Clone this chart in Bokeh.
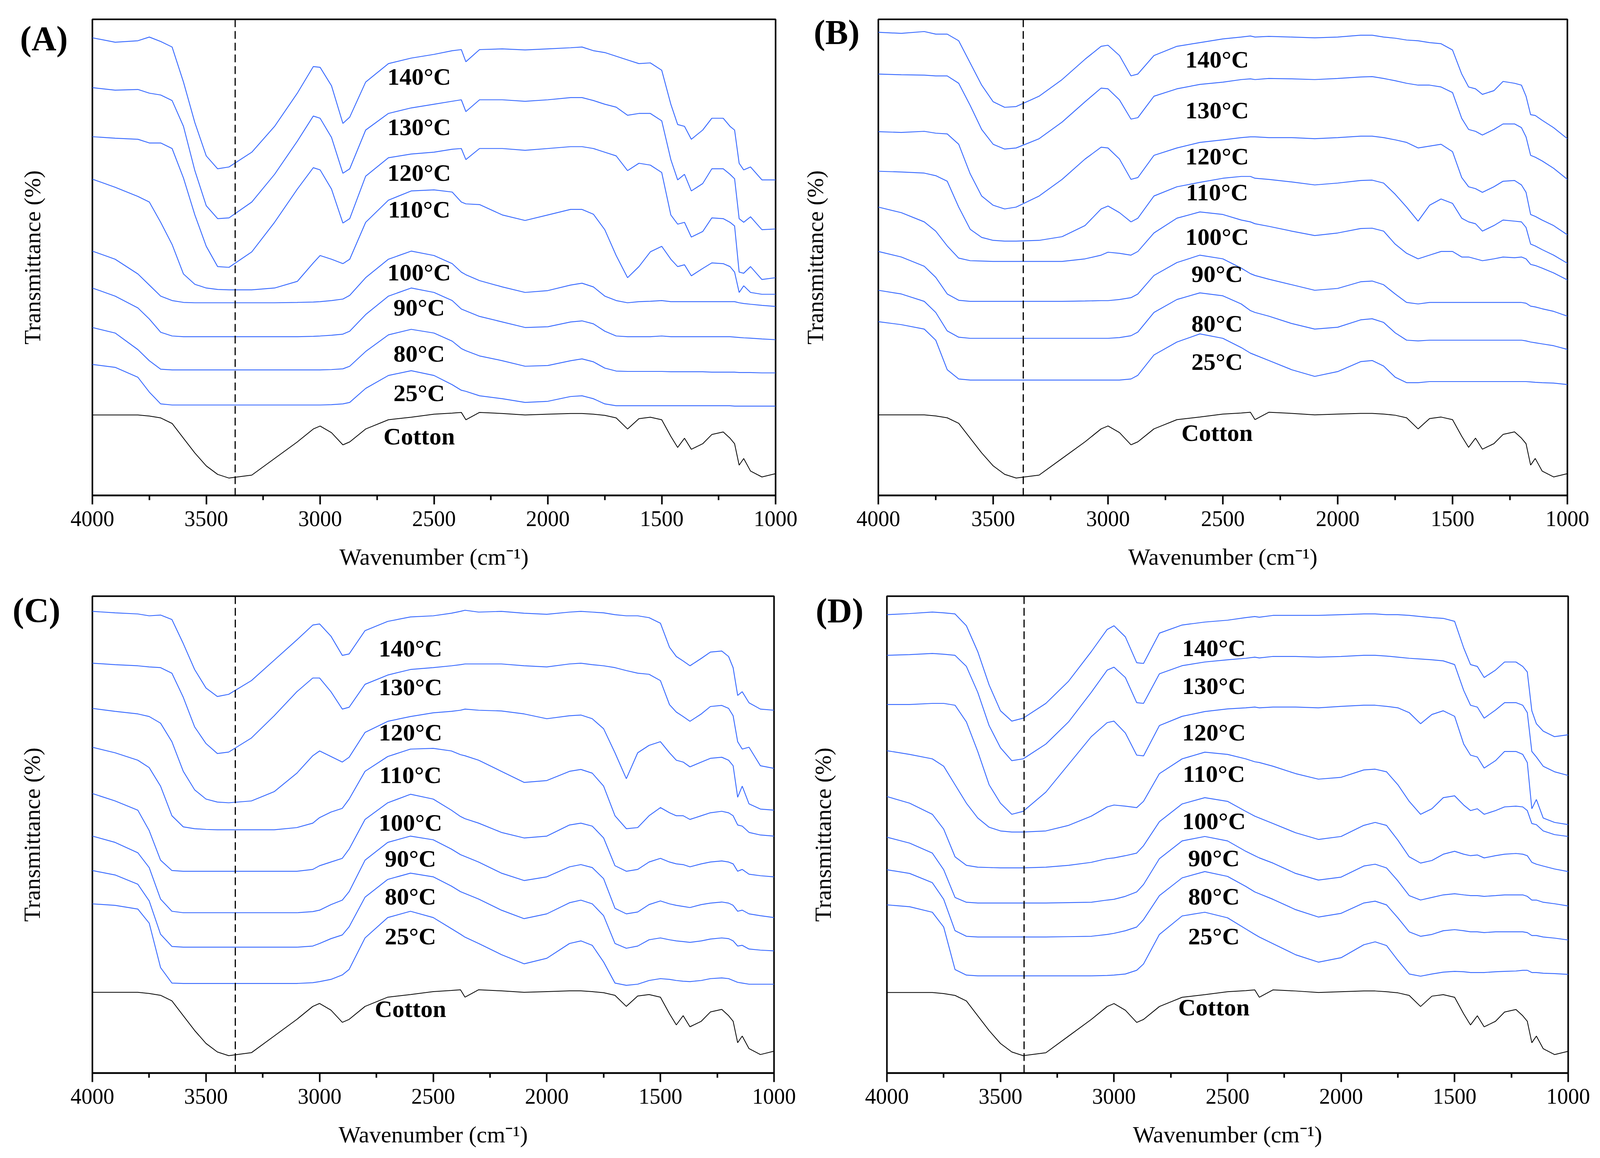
from bokeh.plotting import figure
from bokeh.models import Range1d, FixedTicker, Label, Span
from bokeh.layouts import column, row
from bokeh.embed import file_html
from bokeh.resources import INLINE

# wavenumber grid (cm-1) shared by every spectrum
wavenumber = [4000, 3900, 3800, 3750, 3700, 3650, 3600, 3550, 3500, 3450,
              3400, 3300, 3200, 3100, 3030, 3000, 2950, 2900, 2870, 2800,
              2700, 2600, 2500, 2420, 2380, 2360, 2300, 2200, 2100, 2000,
              1900, 1850, 1800, 1750, 1700, 1650, 1600, 1550, 1500, 1460,
              1430, 1400, 1370, 1320, 1280, 1230, 1200, 1180, 1160, 1140,
              1110, 1060, 1000]

series_labels = ["140\u00b0C", "130\u00b0C", "120\u00b0C", "110\u00b0C",
                 "100\u00b0C", "90\u00b0C", "80\u00b0C", "25\u00b0C", "Cotton"]

# offset transmittance, arbitrary units (stacked spectra)
cotton = [21.8, 21.8, 21.8, 21.5, 21.0, 19.5, 15.5, 11.5, 8.0, 5.7,
          4.7, 5.5, 10.0, 14.5, 18.0, 18.8, 17.0, 13.7, 14.5, 18.0,
          20.5, 21.2, 22.0, 22.3, 22.5, 20.5, 22.5, 22.2, 21.8, 22.0,
          22.2, 22.2, 22.0, 21.7, 21.0, 18.0, 20.8, 21.2, 20.5, 16.0,
          13.0, 15.5, 12.5, 14.0, 16.5, 17.2, 15.5, 14.0, 8.2, 10.0,
          6.6, 5.0, 5.9]

# panel A
a_140 = [124.0, 122.8, 123.2, 124.2, 123.0, 121.5, 112.0, 101.0, 92.0, 88.5,
         89.0, 93.0, 100.0, 109.0, 116.2, 116.0, 111.0, 100.8, 102.5, 112.0,
         117.0, 118.5, 119.5, 120.5, 120.8, 117.5, 120.8, 121.0, 120.7, 121.0,
         121.3, 121.5, 120.5, 120.0, 119.0, 118.0, 117.0, 117.2, 115.2, 106.0,
         100.5, 100.0, 96.5, 99.0, 102.2, 102.2, 100.0, 99.0, 90.0, 88.2,
         89.0, 85.5, 85.5]
a_130 = [110.5, 109.8, 110.0, 109.0, 108.5, 107.0, 100.0, 88.0, 78.5, 75.0,
         75.2, 79.5, 87.0, 96.0, 102.8, 102.2, 97.0, 87.3, 88.5, 99.0,
         103.5, 105.0, 106.0, 106.8, 107.2, 104.0, 107.2, 107.2, 106.8, 107.2,
         107.8, 107.8, 107.0, 106.0, 105.2, 103.0, 103.5, 103.5, 101.5, 91.0,
         85.5, 87.0, 82.5, 84.5, 88.5, 88.5, 87.0, 85.8, 75.0, 74.0,
         75.5, 72.0, 72.2]
a_120 = [97.2, 96.8, 96.5, 95.5, 95.5, 94.0, 86.0, 76.0, 67.5, 62.0,
         61.8, 66.0, 74.0, 83.0, 88.8, 88.2, 83.0, 73.8, 75.0, 86.5,
         91.5, 92.5, 93.0, 93.8, 94.0, 91.0, 94.0, 94.0, 93.5, 94.0,
         94.5, 94.5, 94.0, 93.0, 92.0, 88.0, 90.0, 89.5, 87.5, 76.0,
         73.5, 74.0, 70.0, 71.5, 75.2, 75.0, 74.0, 73.0, 60.5, 60.2,
         62.0, 58.5, 59.0]
a_110 = [85.7, 83.5, 81.0, 79.5, 74.0, 68.0, 60.0, 57.2, 56.2, 55.8,
         55.7, 55.7, 56.2, 58.0, 63.0, 65.0, 64.0, 62.8, 64.0, 74.0,
         80.0, 82.5, 82.8, 82.2, 79.5, 79.0, 78.8, 76.0, 74.5, 76.0,
         77.5, 77.5, 76.2, 72.0, 65.0, 59.0, 62.0, 66.0, 67.5, 64.0,
         62.0, 62.5, 59.5, 61.5, 63.0, 62.8, 62.0, 60.5, 55.0, 56.8,
         55.0, 54.5, 54.5]
a_100 = [66.2, 64.0, 60.0, 57.0, 54.0, 52.8, 52.3, 52.2, 52.2, 52.2,
         52.2, 52.2, 52.2, 52.3, 52.4, 52.5, 52.8, 53.2, 54.2, 59.0,
         64.0, 66.2, 65.0, 62.8, 60.5, 59.8, 58.2, 56.5, 55.0, 55.5,
         57.0, 57.5, 56.5, 54.0, 52.8, 52.2, 52.5, 52.6, 52.8, 52.5,
         52.5, 52.5, 52.5, 52.5, 52.5, 52.5, 52.5, 52.5, 52.2, 52.0,
         51.8, 51.5, 51.2]
a_90 = [56.2, 54.0, 50.8, 47.8, 44.2, 43.2, 43.0, 43.0, 43.0, 43.0,
        43.0, 43.0, 43.0, 43.0, 43.1, 43.2, 43.4, 43.7, 44.5, 49.0,
        54.0, 56.2, 55.0, 52.8, 50.5, 50.0, 48.5, 47.0, 45.5, 45.7,
        47.0, 47.3, 46.5, 44.5, 43.2, 43.0, 43.0, 43.0, 43.2, 43.0,
        43.0, 43.0, 43.0, 43.0, 43.0, 43.0, 43.0, 42.9, 42.8, 42.7,
        42.6, 42.4, 42.2]
a_80 = [45.5, 44.0, 39.5, 36.5, 34.2, 34.0, 34.0, 34.0, 34.0, 34.0,
        34.0, 34.0, 34.0, 34.0, 34.0, 34.0, 34.1, 34.3, 35.0, 39.0,
        43.5, 45.0, 44.0, 41.8, 39.8, 39.2, 37.8, 36.5, 35.0, 35.2,
        36.5, 37.0, 36.2, 34.5, 33.7, 33.6, 33.6, 33.6, 33.6, 33.5,
        33.5, 33.5, 33.5, 33.5, 33.4, 33.4, 33.4, 33.4, 33.3, 33.3,
        33.3, 33.2, 33.2]
a_25 = [35.5, 34.7, 32.0, 28.0, 24.8, 24.5, 24.5, 24.5, 24.5, 24.5,
        24.5, 24.5, 24.5, 24.5, 24.5, 24.5, 24.6, 24.8, 25.2, 29.0,
        32.5, 33.8, 32.5, 30.0, 28.5, 28.2, 27.0, 26.2, 25.2, 25.5,
        26.8, 27.0, 26.2, 24.8, 24.3, 24.3, 24.3, 24.3, 24.3, 24.3,
        24.3, 24.3, 24.3, 24.3, 24.3, 24.3, 24.3, 24.2, 24.2, 24.2,
        24.2, 24.2, 24.2]

# panel B
b_140 = [125.3, 125.0, 125.5, 124.8, 124.8, 123.0, 117.0, 111.0, 106.5, 105.0,
         105.2, 108.0, 112.5, 118.0, 121.5, 121.8, 119.0, 113.5, 114.0, 119.0,
         121.5, 122.5, 123.5, 124.0, 124.3, 124.0, 124.2, 124.0, 123.8, 124.0,
         124.5, 124.5, 124.0, 123.7, 123.2, 123.0, 122.5, 122.2, 120.5, 114.0,
         110.5, 110.0, 108.5, 109.5, 112.0, 111.5, 111.0, 108.0, 103.0, 102.8,
         101.5, 99.5, 96.5]
b_130 = [114.0, 113.8, 113.7, 113.5, 113.5, 111.5, 105.5, 99.0, 95.0, 93.7,
         94.0, 96.5, 101.0, 106.5, 110.2, 110.0, 107.0, 101.8, 102.2, 108.0,
         110.0, 111.2, 111.8, 112.5, 112.7, 112.5, 112.8, 112.7, 112.5, 112.8,
         113.2, 113.3, 112.8, 112.2, 111.5, 111.0, 111.0, 110.5, 109.0, 102.0,
         99.0, 98.5, 97.5, 99.0, 100.5, 100.5, 99.5, 97.0, 92.0, 91.5,
         90.5, 88.5, 85.5]
b_120 = [98.4, 98.2, 98.5, 98.0, 97.8, 95.0, 87.0, 81.0, 78.5, 77.5,
         78.0, 81.0, 85.5, 91.0, 94.2, 94.0, 91.0, 85.5, 86.0, 92.0,
         94.0, 95.5, 96.2, 96.8, 97.0, 97.0, 96.8, 96.8, 96.5, 96.8,
         97.2, 97.2, 96.8, 96.2, 95.5, 94.0, 94.5, 95.0, 93.0, 86.0,
         83.5, 83.0, 82.0, 83.5, 85.0, 85.2, 84.0, 82.0, 76.0, 75.5,
         74.5, 73.0, 70.5]
b_110 = [87.7, 87.5, 87.2, 86.5, 85.0, 78.0, 72.0, 69.8, 69.0, 68.8,
         68.8, 69.0, 70.0, 73.0, 77.5, 78.3, 76.5, 74.0, 75.0, 81.0,
         83.5, 84.7, 85.8, 86.3, 86.3, 85.8, 85.5, 84.8, 84.0, 84.5,
         85.2, 85.3, 84.5, 81.5, 78.0, 74.2, 78.5, 80.2, 79.0, 75.0,
         74.0, 73.5, 71.5, 73.0, 74.5, 74.2, 74.0, 72.5, 68.0, 67.5,
         66.5, 65.0, 62.8]
b_100 = [78.0, 76.5, 74.0, 71.5, 67.5, 64.2, 63.5, 63.4, 63.3, 63.3,
         63.3, 63.3, 63.3, 64.0, 65.0, 65.8, 65.5, 65.0, 66.0, 71.0,
         75.0, 76.7, 76.0, 74.5, 74.0, 73.5, 72.8, 71.5, 70.3, 71.0,
         72.2, 72.3, 71.5, 68.0, 65.5, 64.0, 65.0, 66.0, 66.0, 64.5,
         64.5, 64.0, 63.5, 64.0, 64.5, 64.3, 64.5, 64.0, 62.5, 62.2,
         61.5, 60.2, 58.3]
b_90 = [66.0, 64.5, 62.0, 59.0, 54.5, 52.8, 52.5, 52.5, 52.5, 52.5,
        52.5, 52.5, 52.5, 52.6, 52.7, 52.7, 53.0, 53.5, 54.5, 59.5,
        63.0, 65.0, 64.0, 61.5, 60.0, 59.5, 58.5, 57.0, 55.5, 56.0,
        57.8, 58.0, 57.0, 54.5, 52.2, 51.8, 52.2, 52.2, 52.2, 52.2,
        52.2, 52.2, 52.2, 52.2, 52.2, 52.2, 52.2, 52.0, 51.2, 51.0,
        50.5, 49.8, 48.5]
b_80 = [55.5, 54.5, 52.5, 49.5, 44.5, 42.8, 42.5, 42.5, 42.5, 42.5,
        42.5, 42.5, 42.5, 42.5, 42.5, 42.5, 42.7, 43.2, 44.2, 49.5,
        53.0, 54.8, 54.0, 51.8, 50.0, 49.5, 48.5, 46.5, 45.0, 45.5,
        47.5, 47.8, 46.8, 44.0, 42.0, 41.8, 42.0, 42.0, 42.0, 42.0,
        42.0, 42.0, 42.0, 42.0, 42.0, 42.0, 42.0, 41.8, 41.5, 41.3,
        41.0, 40.5, 39.5]
b_25 = [47.0, 46.2, 45.0, 42.0, 34.0, 31.5, 31.2, 31.2, 31.2, 31.2,
        31.2, 31.2, 31.2, 31.2, 31.2, 31.2, 31.2, 31.5, 32.5, 38.0,
        41.5, 43.7, 42.5, 40.0, 38.5, 38.0, 36.5, 34.0, 32.2, 33.5,
        36.2, 36.5, 35.0, 32.0, 30.5, 30.5, 30.8, 30.8, 30.8, 30.8,
        30.8, 30.8, 30.8, 30.8, 30.8, 30.8, 30.8, 30.8, 30.7, 30.6,
        30.5, 30.4, 30.0]

# panel C
c_140 = [124.7, 124.3, 124.0, 123.5, 123.7, 122.5, 116.0, 109.0, 104.0, 101.7,
         102.3, 106.0, 111.5, 117.0, 121.0, 121.3, 118.0, 112.8, 113.2, 119.5,
         122.0, 123.2, 123.5, 124.2, 124.7, 125.0, 124.5, 124.7, 124.2, 123.9,
         124.5, 124.7, 124.5, 124.3, 123.8, 123.5, 123.5, 123.0, 121.5, 115.0,
         112.5, 111.3, 110.0, 112.0, 113.7, 114.0, 112.5, 109.5, 102.0, 103.0,
         100.0, 98.3, 98.0]
c_130 = [110.7, 110.3, 110.0, 109.7, 109.5, 108.0, 101.5, 93.5, 89.0, 86.3,
         86.7, 90.5, 96.5, 103.0, 106.7, 106.7, 103.0, 98.3, 98.8, 105.0,
         107.5, 109.0, 109.5, 110.0, 110.3, 110.5, 110.5, 110.5, 110.0, 109.7,
         110.5, 110.7, 110.3, 110.0, 109.5, 108.7, 108.0, 107.7, 106.0, 99.5,
         97.5, 96.3, 95.0, 97.0, 99.0, 99.3, 98.5, 96.5, 89.5, 87.5,
         88.0, 83.0, 82.3]
c_120 = [98.5, 97.7, 97.0, 96.3, 94.5, 89.5, 81.5, 76.5, 74.0, 73.2,
         73.0, 73.5, 76.0, 81.0, 85.7, 87.0, 85.5, 84.0, 85.3, 92.0,
         95.0, 96.3, 97.3, 97.7, 98.0, 98.3, 98.0, 97.8, 97.0, 95.7,
         96.5, 96.7, 95.7, 93.0, 86.5, 79.5, 86.5, 88.5, 89.5, 86.5,
         84.5, 84.0, 82.7, 84.0, 85.0, 85.3, 84.5, 83.0, 74.5, 77.5,
         72.7, 71.3, 71.0]
c_110 = [88.0, 86.5, 84.5, 82.5, 77.5, 69.5, 66.5, 66.0, 65.8, 65.7,
         65.7, 65.7, 65.7, 66.3, 67.5, 69.0, 70.5, 71.5, 74.0, 81.5,
         85.5, 87.5, 87.7, 87.0, 86.0, 85.7, 84.5, 81.5, 78.5, 79.0,
         81.5, 82.0, 81.0, 77.5, 69.5, 66.0, 66.3, 69.5, 71.7, 70.3,
         69.5, 69.5, 68.5, 69.5, 70.3, 70.7, 70.3, 69.5, 67.0, 66.7,
         65.0, 64.3, 64.0]
c_100 = [75.5, 73.5, 71.0, 65.5, 57.5, 54.7, 54.5, 54.5, 54.5, 54.5,
         54.5, 54.5, 54.5, 54.5, 55.0, 56.0, 57.0, 58.0, 60.5, 68.5,
         73.0, 75.3, 74.0, 71.0, 69.3, 68.7, 67.5, 65.0, 63.5, 64.0,
         67.0, 67.5, 66.7, 63.5, 56.0, 54.5, 55.0, 57.0, 58.0, 57.0,
         56.5, 56.3, 55.7, 56.5, 57.0, 57.3, 57.0, 56.5, 54.5, 55.0,
         53.7, 53.3, 53.0]
c_90 = [64.0, 62.3, 59.5, 55.5, 47.0, 43.7, 43.3, 43.3, 43.3, 43.3,
        43.3, 43.3, 43.3, 43.3, 43.6, 44.0, 45.5, 46.7, 49.0, 57.5,
        62.3, 64.0, 63.0, 60.5, 59.0, 58.5, 57.0, 54.0, 52.0, 53.0,
        55.7, 56.3, 55.5, 52.5, 44.5, 43.0, 43.5, 45.5, 46.5, 45.7,
        45.3, 45.0, 44.7, 45.5, 45.9, 46.2, 45.9, 45.3, 43.7, 44.0,
        43.0, 42.5, 42.0]
c_80 = [54.7, 53.5, 51.0, 46.5, 37.5, 34.2, 34.0, 34.0, 34.0, 34.0,
        34.0, 34.0, 34.0, 34.0, 34.3, 35.0, 36.3, 37.3, 39.5, 47.5,
        52.3, 54.0, 53.0, 50.5, 49.0, 48.5, 47.0, 44.0, 41.7, 43.0,
        46.0, 46.7, 45.7, 42.5, 35.0, 33.7, 34.3, 36.0, 36.5, 36.0,
        35.7, 35.5, 35.3, 35.7, 36.2, 36.5, 36.3, 35.7, 34.3, 34.5,
        33.5, 33.2, 33.0]
c_25 = [45.7, 45.3, 44.3, 40.5, 28.5, 24.3, 24.2, 24.2, 24.2, 24.2,
        24.2, 24.2, 24.2, 24.2, 24.4, 24.7, 25.3, 26.5, 28.0, 36.5,
        42.0, 43.7, 42.0, 39.0, 37.5, 36.7, 35.0, 32.0, 29.5, 31.0,
        35.0, 35.7, 34.5, 30.0, 24.3, 23.7, 24.0, 25.0, 25.5, 25.3,
        25.0, 24.8, 24.7, 25.0, 25.5, 25.7, 25.5, 25.0, 24.5, 24.3,
        24.0, 24.0, 24.0]

# panel D
d_140 = [124.0, 124.3, 124.7, 124.5, 124.2, 121.0, 114.0, 105.0, 98.0, 95.2,
         96.0, 100.0, 106.0, 114.0, 120.0, 121.0, 118.0, 111.0, 110.8, 119.0,
         121.2, 122.0, 122.5, 123.2, 123.5, 123.3, 123.8, 123.8, 123.8, 124.0,
         124.2, 124.2, 124.0, 124.0, 123.8, 123.5, 123.2, 123.0, 122.2, 115.0,
         110.5, 110.0, 107.0, 109.0, 111.2, 111.2, 110.0, 108.5, 98.0, 94.5,
         92.5, 91.0, 91.5]
d_130 = [113.0, 113.2, 113.5, 113.3, 113.0, 110.0, 103.0, 94.0, 88.0, 84.5,
         85.0, 89.0, 95.0, 103.0, 109.0, 109.8, 107.0, 100.2, 100.0, 108.0,
         110.2, 111.2, 111.8, 112.2, 112.5, 112.3, 112.7, 112.7, 112.5, 112.7,
         113.0, 113.0, 112.8, 112.5, 112.2, 112.0, 111.8, 111.5, 110.5, 103.5,
         99.5, 99.0, 96.0, 98.2, 100.2, 100.2, 99.5, 97.5, 87.0, 85.5,
         83.0, 81.5, 80.5]
d_120 = [99.7, 99.7, 100.0, 100.0, 99.5, 95.0, 87.0, 78.0, 73.0, 70.0,
         70.8, 76.0, 83.5, 91.0, 94.8, 95.2, 92.0, 86.0, 85.8, 94.0,
         96.5, 97.8, 98.5, 98.8, 99.0, 98.8, 99.0, 99.0, 98.8, 99.2,
         99.5, 99.5, 99.2, 98.8, 97.5, 94.5, 97.0, 98.0, 96.5, 89.0,
         86.0, 85.5, 82.5, 84.5, 87.0, 87.0, 86.2, 84.0, 71.5, 74.0,
         69.0, 67.8, 67.2]
d_110 = [87.2, 86.2, 85.0, 83.0, 78.0, 73.0, 69.0, 66.5, 65.5, 65.2,
         65.2, 65.5, 67.0, 69.5, 72.0, 72.5, 72.2, 71.8, 73.5, 81.0,
         85.0, 86.8, 86.2, 85.0, 84.2, 84.0, 83.0, 81.0, 79.5, 80.0,
         82.0, 82.2, 81.5, 78.0, 73.5, 70.0, 71.5, 74.5, 75.0, 72.5,
         71.0, 71.5, 70.0, 71.0, 72.0, 72.2, 72.0, 71.0, 67.5, 67.2,
         65.5, 64.5, 64.0]
d_100 = [74.8, 73.0, 70.0, 66.0, 58.5, 56.2, 55.7, 55.6, 55.5, 55.5,
         55.5, 55.7, 56.2, 57.0, 58.0, 58.2, 58.8, 59.5, 61.5, 68.0,
         72.8, 74.5, 73.5, 70.8, 69.5, 69.0, 67.5, 65.0, 63.2, 64.0,
         67.0, 67.8, 67.0, 63.0, 58.5, 56.8, 57.5, 59.2, 60.0, 59.2,
         58.8, 59.0, 58.2, 58.8, 59.2, 59.4, 59.2, 58.8, 57.0, 56.5,
         56.0, 55.2, 54.5]
d_90 = [63.8, 62.2, 59.5, 55.0, 47.5, 46.2, 46.0, 46.0, 46.0, 46.0,
        46.0, 46.0, 46.1, 46.2, 46.8, 47.0, 47.8, 49.0, 51.0, 58.0,
        62.8, 64.0, 62.8, 60.0, 58.8, 58.2, 56.8, 54.0, 52.2, 53.0,
        56.0, 56.5, 55.5, 52.0, 48.0, 46.8, 47.5, 48.2, 48.5, 48.2,
        48.0, 48.0, 47.8, 48.0, 48.2, 48.2, 48.2, 47.8, 46.8, 46.8,
        46.2, 45.8, 45.2]
d_80 = [55.0, 54.0, 51.5, 47.0, 38.5, 37.0, 36.8, 36.8, 36.8, 36.8,
        36.8, 36.8, 36.9, 37.0, 37.5, 37.8, 38.5, 39.5, 41.5, 48.0,
        52.8, 54.5, 53.2, 50.5, 49.0, 48.5, 47.0, 44.2, 42.2, 43.2,
        46.0, 46.5, 45.5, 42.0, 38.2, 37.0, 37.5, 38.5, 38.8, 38.5,
        38.2, 38.2, 38.0, 38.2, 38.2, 38.2, 38.2, 38.0, 37.2, 37.2,
        36.8, 36.5, 36.0]
d_25 = [45.5, 45.0, 43.5, 39.5, 28.0, 26.5, 26.3, 26.3, 26.3, 26.3,
        26.3, 26.3, 26.3, 26.3, 26.4, 26.5, 26.8, 27.8, 29.5, 37.5,
        42.5, 43.5, 42.0, 39.0, 37.5, 36.8, 35.0, 32.0, 30.0, 31.2,
        34.7, 35.5, 34.5, 30.5, 26.8, 26.2, 26.8, 27.3, 27.5, 27.4,
        27.2, 27.2, 27.2, 27.4, 27.5, 27.6, 27.8, 27.8, 27.2, 27.2,
        27.0, 26.9, 26.7]

# label heights for 140 ... 25, Cotton
a_label_y = [113.5, 99.8, 87.5, 77.5, 60.5, 51.0, 38.5, 27.8, 16.0]
b_label_y = [118.0, 104.2, 91.8, 82.0, 70.0, 60.0, 46.5, 36.2, 17.0]
c_label_y = [114.7, 104.3, 92.0, 80.5, 67.7, 58.0, 47.7, 37.0, 17.3]
d_label_y = [115.0, 104.8, 92.2, 81.0, 68.2, 58.2, 47.8, 37.0, 17.8]

BLUE = "#3366FF"
SERIF = "Liberation Serif"

# plots in one row share frame top/bottom, so B keeps A's borders and a
# slightly shorter y range; tag_y is the height of the panel letter (drawn as
# the single y tick label), tag_gap its gap to the frame, title_gap the y title standoff
panels = [
    dict(tag="(A)", curves=[a_140, a_130, a_120, a_110, a_100, a_90, a_80, a_25],
         top=129.0, dash=3373, label_x=2565, label_y=a_label_y,
         w=2048, h=1490, bl=236, br=63, bt=49, bb=222,
         tag_y=123.8, tag_gap=63, title_gap=-68),
    dict(tag="(B)", curves=[b_140, b_130, b_120, b_110, b_100, b_90, b_80, b_25],
         top=128.8, dash=3369, label_x=2525, label_y=b_label_y,
         w=2040, h=1490, bl=200, br=76, bt=49, bb=222,
         tag_y=125.3, tag_gap=48, title_gap=-40),
    dict(tag="(C)", curves=[c_140, c_130, c_120, c_110, c_100, c_90, c_80, c_25],
         top=128.8, dash=3371, label_x=2600, label_y=c_label_y,
         w=2048, h=1462, bl=236, br=67, bt=36, bb=205,
         tag_y=125.0, tag_gap=82, title_gap=-86),
    dict(tag="(D)", curves=[d_140, d_130, d_120, d_110, d_100, d_90, d_80, d_25],
         top=129.0, dash=3396, label_x=2560, label_y=d_label_y,
         w=2040, h=1462, bl=222, br=74, bt=36, bb=205,
         tag_y=125.1, tag_gap=60, title_gap=-55),
]


def make_panel(cfg):
    p = figure(width=cfg["w"], height=cfg["h"], title=None,
               x_range=Range1d(4000, 1000), y_range=Range1d(0, cfg["top"]),
               output_backend="svg", toolbar_location=None,
               min_border_left=cfg["bl"], min_border_right=cfg["br"],
               min_border_top=cfg["bt"], min_border_bottom=cfg["bb"])
    p.xgrid.visible = False
    p.ygrid.visible = False
    p.outline_line_color = "black"
    p.outline_line_width = 4
    p.outline_line_alpha = 1.0

    xa = p.xaxis[0]
    xa.ticker = FixedTicker(ticks=[1000, 1500, 2000, 2500, 3000, 3500, 4000],
                            minor_ticks=[1250, 1750, 2250, 2750, 3250, 3750])
    xa.major_tick_in = 0
    xa.major_tick_out = 23
    xa.minor_tick_in = 0
    xa.minor_tick_out = 12
    xa.major_tick_line_width = 4
    xa.minor_tick_line_width = 4
    xa.axis_line_width = 4
    xa.major_label_text_font = SERIF
    xa.major_label_text_font_size = "56px"
    xa.major_label_text_color = "black"
    xa.major_label_standoff = 17
    xa.axis_label = "Wavenumber (cm\u207b\u00b9)"
    xa.axis_label_text_font = SERIF
    xa.axis_label_text_font_size = "60px"
    xa.axis_label_text_font_style = "normal"
    xa.axis_label_text_color = "black"
    xa.axis_label_standoff = 43

    # the y axis has no numeric ticks; its one tick label carries the panel letter
    ya = p.yaxis[0]
    ya.ticker = FixedTicker(ticks=[cfg["tag_y"]])
    ya.major_label_overrides = {cfg["tag_y"]: cfg["tag"]}
    ya.major_tick_out = 0
    ya.major_tick_in = 0
    ya.minor_tick_out = 0
    ya.minor_tick_in = 0
    ya.major_tick_line_color = None
    ya.minor_tick_line_color = None
    ya.major_label_standoff = cfg["tag_gap"]
    ya.major_label_text_font = SERIF
    ya.major_label_text_font_style = "bold"
    ya.major_label_text_font_size = "88px"
    ya.major_label_text_color = "black"
    ya.axis_line_color = None
    ya.axis_label = "Transmittance (%)"
    ya.axis_label_text_font = SERIF
    ya.axis_label_text_font_size = "60px"
    ya.axis_label_text_font_style = "normal"
    ya.axis_label_text_color = "black"
    ya.axis_label_standoff = cfg["title_gap"]

    for ys in cfg["curves"]:
        p.line(wavenumber, ys, line_color=BLUE, line_width=2.2)
    p.line(wavenumber, cotton, line_color="black", line_width=2.0)

    p.add_layout(Span(location=cfg["dash"], dimension="height",
                      line_color="black", line_width=3, line_dash="20 10"))

    for text, ly in zip(series_labels, cfg["label_y"]):
        p.add_layout(Label(x=cfg["label_x"], y=ly, text=text,
                           text_font=SERIF, text_font_style="bold",
                           text_font_size="62px", text_color="black",
                           text_align="center", text_baseline="middle"))
    return p


figs = [make_panel(c) for c in panels]
layout = column(row(figs[0], figs[1]), row(figs[2], figs[3]))

open("out.html", "w").write(file_html(layout, INLINE))
